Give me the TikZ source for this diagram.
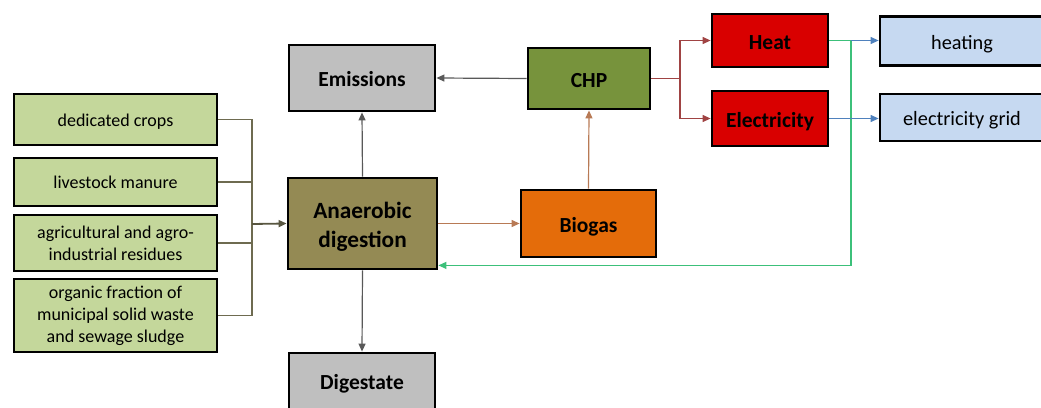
\documentclass[tikz,border=0pt]{standalone}
\usepackage{fontspec}
\setmainfont{Carlito}
\usetikzlibrary{arrows.meta}
\definecolor{cin}{HTML}{C4D79B}
\definecolor{cad}{HTML}{948A54}
\definecolor{cgray}{HTML}{BFBFBF}
\definecolor{cchp}{HTML}{77933C}
\definecolor{cbio}{HTML}{E46C0A}
\definecolor{cred}{HTML}{D90000}
\definecolor{cblue}{HTML}{C6D9F1}
\definecolor{lin}{HTML}{6E6B50}
\definecolor{lgray}{HTML}{595959}
\definecolor{lbio}{HTML}{B87A55}
\definecolor{lred}{HTML}{A04343}
\definecolor{lgreen}{HTML}{3CC07A}
\definecolor{lblue}{HTML}{4F81BD}
\begin{document}
\begin{tikzpicture}[x=1pt,y=-1pt,
  box/.style={draw=black, line width=2.8pt, inner sep=0pt, align=center, text=black},
  bigt/.style={font=\fontsize{21.5}{25}\selectfont\bfseries, text height=18.5pt, text depth=1.5pt},
  smallt/.style={font=\fontsize{18}{22}\selectfont},
  smallone/.style={smallt, text height=14.5pt, text depth=1.5pt},
  rightt/.style={font=\fontsize{20.3}{24}\selectfont, text height=17.5pt, text depth=1.5pt},
  conn/.style={line width=1.2pt},
  tip/.style={-{Triangle[length=8pt,width=7pt]}}
]
\useasboundingbox (0,0) rectangle (1041,407);
% left input boxes
\node[box, smallone, fill=cin, minimum width=203, minimum height=51] (crops) at (115.5,119.5) {dedicated crops};
\node[box, smallone, fill=cin, minimum width=203, minimum height=48] (manure) at (115.5,182) {livestock manure};
\node[box, smallt, fill=cin, minimum width=203, minimum height=56] (agri) at (115.5,243) {agricultural and agro-\\industrial residues};
\node[box, smallt, fill=cin, minimum width=203, minimum height=73] (org) at (115.5,315.5) {organic fraction of\\municipal solid waste\\and sewage sludge};
% main boxes
\node[box, fill=cad, minimum width=149, minimum height=91] (ad) at (362.5,223.5) {};
\node[align=center, inner sep=0pt, font=\fontsize{23.3}{29}\selectfont\bfseries] (adtext) at ([yshift=-3pt]ad.center) {Anaerobic\\digestion};
\node[box, bigt, fill=cgray, minimum width=146, minimum height=66] (em) at (362,78) {Emissions};
\node[box, bigt, fill=cgray, minimum width=146, minimum height=56] (dig) at (362,381) {Digestate};
\node[box, bigt, fill=cchp, minimum width=122, minimum height=61] (chp) at (589,78.5) {CHP};
\node[box, bigt, fill=cbio, minimum width=135, minimum height=67] (bio) at (588.5,223.5) {Biogas};
\node[box, bigt, fill=cred, minimum width=116, minimum height=53] (heat) at (770,40.5) {Heat};
\node[box, bigt, fill=cred, minimum width=116, minimum height=55] (elec) at (770,118.5) {Electricity};
\node[box, rightt, fill=cblue, minimum width=164, minimum height=49] (heating) at (962,41) {heating};
\node[box, rightt, fill=cblue, minimum width=164, minimum height=47] (grid) at (962,117.5) {electricity grid};
% input bus
\coordinate (bus) at (252,224);
\draw[conn, draw=lin] (crops.east) -| (bus);
\draw[conn, draw=lin] (manure.east) -| (bus);
\draw[conn, draw=lin] (agri.east) -| (bus);
\draw[conn, draw=lin] (org.east) -| (bus);
\draw[conn, tip, draw=lin!80!black, line width=1.8pt] (bus) -- (ad.west);
% gray arrows
\draw[conn, tip, draw=lgray] (ad.north) -- (em.south);
\draw[conn, tip, draw=lgray] (ad.south) -- (dig.north);
\draw[conn, tip, draw=lgray] (chp.west) -- (em.east);
% biogas
\draw[conn, tip, draw=lbio] (ad.east) -- (bio.west);
\draw[conn, tip, draw=lbio] (bio.north) -- (chp.south);
% CHP split
\coordinate (split) at (680,78.5);
\draw[conn, draw=lred] (chp.east) -- (split);
\draw[conn, tip, draw=lred] (split) |- (heat.west);
\draw[conn, tip, draw=lred] (split) |- (elec.west);
% heat / electricity outputs
\coordinate (gsplit) at (851,40.5);
\draw[conn, draw=lgreen] (heat.east) -- (gsplit);
\draw[conn, tip, draw=lgreen] (gsplit) |- ([yshift=5pt]ad.south east);
\draw[conn, tip, draw=lblue] (gsplit) -- (gsplit -| heating.west);
\draw[conn, tip, draw=lblue] (elec.east) -- (elec.east -| grid.west);
\end{tikzpicture}
\end{document}
